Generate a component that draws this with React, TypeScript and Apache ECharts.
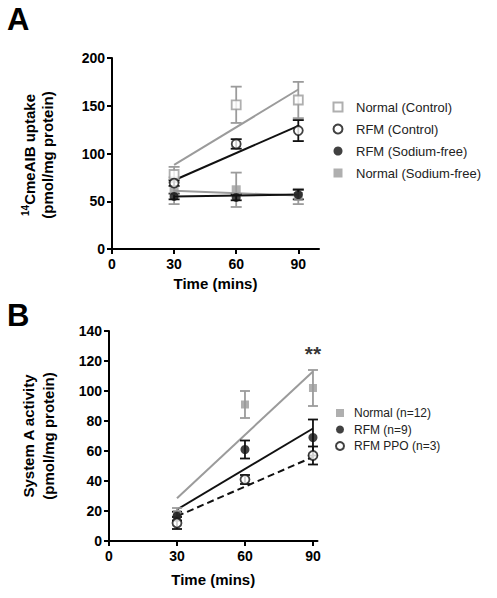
import React, { useEffect, useRef } from 'react';
import * as echarts from 'echarts';

// ---------- Data: Panel A ----------
const timesA = [30, 60, 90];
const normalControlMean = [78, 151, 156];
const normalControlSem = [8, 19, 19];
const rfmControlMean = [69, 110, 124];
const rfmControlSem = [3, 5, 11];
const rfmSodiumFreeMean = [55, 54, 57];
const rfmSodiumFreeSem = [3, 3, 5];
const normalSodiumFreeMean = [61, 62, 55];
const normalSodiumFreeSem = [14, 18, 8];
// regression lines (value at 30 and at 90 min)
const fitTimes = [30, 90];
const normalControlFit = [88, 167];
const rfmControlFit = [72, 129];
const rfmSodiumFreeFit = [55, 57];
const normalSodiumFreeFit = [61, 56];

// ---------- Data: Panel B ----------
const timesB = [30, 60, 90];
const normalBMean = [18, 91, 102];
const normalBSem = [4, 9, 12];
const rfmBMean = [16.5, 61, 69];
const rfmBSem = [3, 6, 12];
const rfmPpoBMean = [12, 41, 57];
const rfmPpoBSem = [4, 3, 6];
const normalBFit = [28.5, 113];
const rfmBFit = [21, 75];
const rfmPpoBFit = [16.5, 56];
const significance = [[90, 125, '**']];

const xTickValues = [0, 30, 60, 90];

const GRAY = '#9b9b9b';
const BLACK = '#111111';
const FONT = "'Liberation Sans', Arial, Helvetica, sans-serif";

const pts = (xs: number[], ys: number[]) => xs.map((x, i) => [x, ys[i]]);
const errs = (xs: number[], ys: number[], es: number[]) => xs.map((x, i) => [x, ys[i], es[i]]);

function errorSeries(name: string, data: number[][], color: string, idx: number, cap: number) {
  return {
    type: 'custom',
    name,
    xAxisIndex: idx,
    yAxisIndex: idx,
    data,
    z: 3,
    silent: true,
    encode: { x: 0, y: 1 },
    renderItem: (_params: any, api: any) => {
      const x = api.value(0);
      const y = api.value(1);
      const e = api.value(2);
      const t = api.coord([x, y + e]);
      const b = api.coord([x, y - e]);
      const st = { stroke: color, lineWidth: 1.8 };
      return {
        type: 'group',
        children: [
          { type: 'line', shape: { x1: t[0], y1: t[1], x2: b[0], y2: b[1] }, style: st },
          { type: 'line', shape: { x1: t[0] - cap, y1: t[1], x2: t[0] + cap, y2: t[1] }, style: st },
          { type: 'line', shape: { x1: b[0] - cap, y1: b[1], x2: b[0] + cap, y2: b[1] }, style: st },
        ],
      };
    },
  };
}

function scatterSeries(name: string, data: number[][], symbol: string, filled: boolean, color: string, idx: number, size: number) {
  return {
    type: 'scatter',
    name,
    xAxisIndex: idx,
    yAxisIndex: idx,
    data,
    symbol,
    symbolSize: size,
    z: 5,
    silent: true,
    itemStyle: filled
      ? { color, borderWidth: 0 }
      : { color: '#ffffff', borderColor: color, borderWidth: 1.8 },
  };
}

function fitSeries(name: string, ys: number[], color: string, idx: number, dashed = false) {
  return {
    type: 'line',
    name,
    xAxisIndex: idx,
    yAxisIndex: idx,
    data: pts(fitTimes, ys),
    symbol: 'none',
    silent: true,
    z: 2,
    lineStyle: { color, width: 2, type: dashed ? [7, 4] : 'solid' },
  };
}

function xAxisCfg(idx: number, max: number, nameGap: number) {
  return {
    gridIndex: idx,
    type: 'value',
    min: 0,
    max,
    interval: 30,
    axisLine: { onZero: false, lineStyle: { color: '#000', width: 2 } },
    axisTick: { show: true, inside: false, length: 5, lineStyle: { color: '#000', width: 2 }, customValues: xTickValues },
    axisLabel: { customValues: xTickValues, color: '#000', fontWeight: 'bold', fontSize: 14, fontFamily: FONT, margin: 8 },
    splitLine: { show: false },
    name: 'Time (mins)',
    nameLocation: 'middle',
    nameGap,
    nameTextStyle: { color: '#000', fontWeight: 'bold', fontSize: 15, fontFamily: FONT },
  };
}

function yAxisCfg(idx: number, max: number, interval: number) {
  return {
    gridIndex: idx,
    type: 'value',
    min: 0,
    max,
    interval,
    axisLine: { show: true, lineStyle: { color: '#000', width: 2 } },
    axisTick: { show: true, inside: false, length: 5, lineStyle: { color: '#000', width: 2 } },
    axisLabel: { color: '#000', fontWeight: 'bold', fontSize: 14, fontFamily: FONT, margin: 7 },
    splitLine: { show: false },
  };
}

const option: any = {
  animation: false,
  backgroundColor: '#ffffff',
  grid: [
    { left: 112, top: 58, width: 207, height: 191 },
    { left: 109, top: 331, width: 208.5, height: 210 },
  ],
  xAxis: [xAxisCfg(0, 100, 27), xAxisCfg(1, 92, 31)],
  yAxis: [yAxisCfg(0, 200, 50), yAxisCfg(1, 140, 20)],
  legend: [
    {
      data: ['Normal (Control)', 'RFM (Control)', 'RFM (Sodium-free)', 'Normal (Sodium-free)'],
      orient: 'vertical',
      left: 332.5,
      top: 99,
      padding: 0,
      itemWidth: 9,
      itemHeight: 9,
      itemGap: 6,
      selectedMode: false,
      textStyle: { fontSize: 13, fontFamily: FONT, color: '#222', lineHeight: 16, padding: [0, 0, 0, 8.5] },
    },
    {
      data: ['Normal (n=12)', 'RFM (n=9)', 'RFM PPO (n=3)'],
      orient: 'vertical',
      left: 335,
      top: 406,
      padding: 0,
      itemWidth: 8,
      itemHeight: 8,
      itemGap: 2.5,
      selectedMode: false,
      textStyle: { fontSize: 12, fontFamily: FONT, color: '#222', lineHeight: 14, padding: [0, 0, 0, 5] },
    },
  ],
  graphic: [
    { type: 'text', x: 7, y: 19, style: { text: 'A', fill: '#000', font: `bold 31px ${FONT}`, align: 'left', verticalAlign: 'middle' } },
    { type: 'text', x: 7, y: 315, style: { text: 'B', fill: '#000', font: `bold 31px ${FONT}`, align: 'left', verticalAlign: 'middle' } },
    {
      type: 'text',
      x: 38,
      y: 155,
      rotation: Math.PI / 2,
      style: {
        text: '{sup|14}{t|CmeAIB uptake}\n{t|(pmol/mg protein)}',
        align: 'center',
        verticalAlign: 'middle',
        fill: '#000',
        rich: {
          sup: { fontSize: 10, lineHeight: 10, fontWeight: 'bold', fontFamily: FONT, verticalAlign: 'top', fill: '#000' },
          t: { fontSize: 15, lineHeight: 18, fontWeight: 'bold', fontFamily: FONT, fill: '#000' },
        },
      },
    },
    {
      type: 'text',
      x: 38,
      y: 436,
      rotation: Math.PI / 2,
      style: {
        text: '{t|System A activity}\n{t|(pmol/mg protein)}',
        align: 'center',
        verticalAlign: 'middle',
        fill: '#000',
        rich: {
          t: { fontSize: 15, lineHeight: 20, fontWeight: 'bold', fontFamily: FONT, fill: '#000' },
        },
      },
    },
  ],
  series: [
    // Panel A
    fitSeries('A fit normal control', normalControlFit, GRAY, 0),
    fitSeries('A fit rfm control', rfmControlFit, BLACK, 0),
    fitSeries('A fit normal sodium-free', normalSodiumFreeFit, GRAY, 0),
    fitSeries('A fit rfm sodium-free', rfmSodiumFreeFit, BLACK, 0),
    errorSeries('A err normal sodium-free', errs(timesA, normalSodiumFreeMean, normalSodiumFreeSem), GRAY, 0, 5.5),
    errorSeries('A err normal control', errs(timesA, normalControlMean, normalControlSem), GRAY, 0, 5.5),
    errorSeries('A err rfm sodium-free', errs(timesA, rfmSodiumFreeMean, rfmSodiumFreeSem), BLACK, 0, 5.5),
    errorSeries('A err rfm control', errs(timesA, rfmControlMean, rfmControlSem), BLACK, 0, 5.5),
    scatterSeries('Normal (Control)', pts(timesA, normalControlMean), 'rect', false, GRAY, 0, 9),
    scatterSeries('Normal (Sodium-free)', pts(timesA, normalSodiumFreeMean), 'rect', true, GRAY, 0, 9),
    scatterSeries('RFM (Control)', pts(timesA, rfmControlMean), 'circle', false, BLACK, 0, 9),
    scatterSeries('RFM (Sodium-free)', pts(timesA, rfmSodiumFreeMean), 'circle', true, BLACK, 0, 9),
    // Panel B
    fitSeries('B fit normal', normalBFit, GRAY, 1),
    fitSeries('B fit rfm', rfmBFit, BLACK, 1),
    fitSeries('B fit rfm ppo', rfmPpoBFit, BLACK, 1, true),
    errorSeries('B err normal', errs(timesB, normalBMean, normalBSem), GRAY, 1, 5),
    errorSeries('B err rfm', errs(timesB, rfmBMean, rfmBSem), BLACK, 1, 5),
    errorSeries('B err rfm ppo', errs(timesB, rfmPpoBMean, rfmPpoBSem), BLACK, 1, 5),
    scatterSeries('Normal (n=12)', pts(timesB, normalBMean), 'rect', true, GRAY, 1, 8),
    scatterSeries('RFM (n=9)', pts(timesB, rfmBMean), 'circle', true, BLACK, 1, 9),
    scatterSeries('RFM PPO (n=3)', pts(timesB, rfmPpoBMean), 'circle', false, BLACK, 1, 9),
    {
      type: 'scatter',
      name: 'B significance',
      xAxisIndex: 1,
      yAxisIndex: 1,
      data: significance.map((s) => ({ value: [s[0], s[1]], label: { formatter: String(s[2]) } })),
      symbolSize: 1,
      itemStyle: { color: 'rgba(0,0,0,0)' },
      silent: true,
      z: 6,
      label: { show: true, position: 'inside', color: '#000000', fontWeight: 'bold', fontSize: 21, fontFamily: FONT },
    },
  ],
};

export default function App() {
  const ref = useRef<HTMLDivElement>(null);
  useEffect(() => {
    if (!ref.current) return;
    const chart = echarts.init(ref.current, null, { renderer: 'svg' });
    chart.setOption(option);
    return () => {
      chart.dispose();
    };
  }, []);
  return (
    <div
      ref={ref}
      style={{ position: 'fixed', left: 0, top: 0, width: 497, height: 598, background: '#ffffff' }}
    />
  );
}
